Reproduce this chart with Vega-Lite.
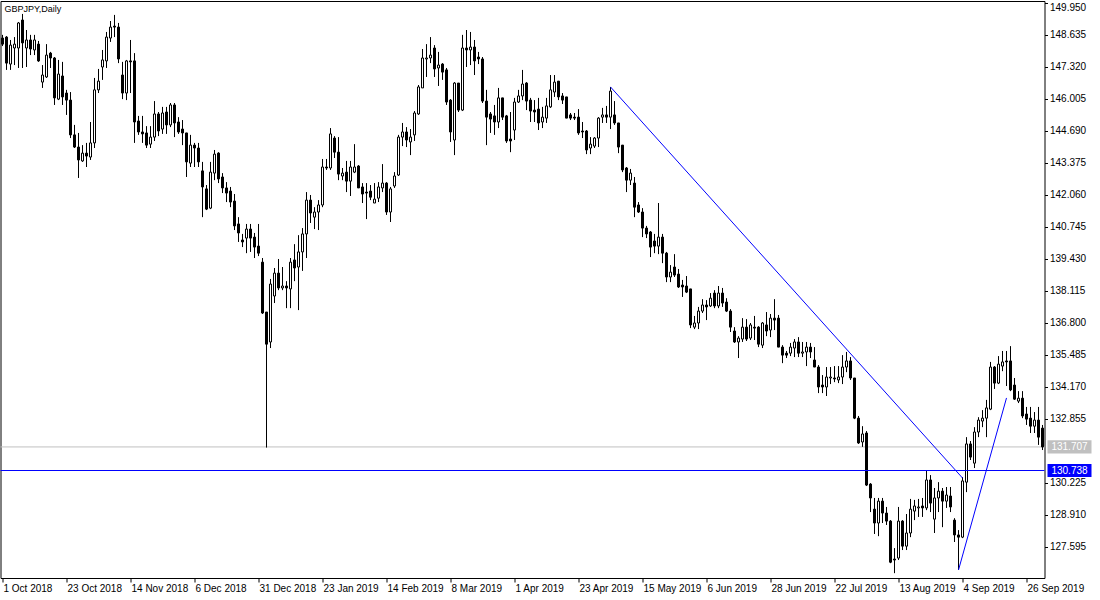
{
"$schema": "https://vega.github.io/schema/vega-lite/v6.json",
"width": 1044, "height": 577,
"autosize": "none",
"padding": {"left": 0.5, "top": 1, "right": 55.5, "bottom": 22},
"background": "white",
"config": {"view": {"stroke": "black", "strokeWidth": 1}, "font": "Liberation Sans", "axis": {"labelFont": "Liberation Sans", "labelColor": "black", "domainColor": "black", "tickColor": "black", "labelOverlap": false, "grid": false}},
"title": {"text": "GBPJPY,Daily", "anchor": "start", "frame": "group", "baseline": "bottom", "offset": -22, "dx": 4, "fontSize": 9, "fontWeight": "normal", "font": "Liberation Sans", "color": "black"},
"datasets": {
"bars": [
{"d":"1 Oct 2018","o":148.51,"h":148.64,"l":148.18,"c":148.26},
{"d":"2 Oct 2018","o":148.55,"h":148.59,"l":147.20,"c":147.48},
{"d":"3 Oct 2018","o":147.44,"h":148.43,"l":147.20,"c":148.22},
{"d":"4 Oct 2018","o":148.10,"h":148.55,"l":147.40,"c":148.26},
{"d":"5 Oct 2018","o":148.10,"h":149.17,"l":147.28,"c":149.13},
{"d":"8 Oct 2018","o":149.25,"h":149.50,"l":147.28,"c":148.31},
{"d":"9 Oct 2018","o":148.10,"h":148.84,"l":147.32,"c":148.43},
{"d":"10 Oct 2018","o":148.43,"h":148.64,"l":147.81,"c":148.06},
{"d":"11 Oct 2018","o":148.02,"h":148.64,"l":147.81,"c":148.43},
{"d":"12 Oct 2018","o":148.26,"h":148.39,"l":147.53,"c":147.57},
{"d":"15 Oct 2018","o":146.70,"h":147.40,"l":146.46,"c":146.99},
{"d":"16 Oct 2018","o":146.91,"h":148.26,"l":146.87,"c":147.81},
{"d":"17 Oct 2018","o":147.89,"h":147.94,"l":147.28,"c":147.69},
{"d":"18 Oct 2018","o":147.69,"h":147.73,"l":145.76,"c":146.05},
{"d":"19 Oct 2018","o":146.00,"h":147.61,"l":145.96,"c":147.03},
{"d":"22 Oct 2018","o":146.95,"h":147.53,"l":145.76,"c":146.09},
{"d":"23 Oct 2018","o":146.25,"h":146.38,"l":145.35,"c":145.96},
{"d":"24 Oct 2018","o":145.96,"h":146.29,"l":144.40,"c":144.53},
{"d":"25 Oct 2018","o":144.53,"h":144.94,"l":143.99,"c":144.03},
{"d":"26 Oct 2018","o":144.03,"h":144.61,"l":142.76,"c":143.50},
{"d":"29 Oct 2018","o":143.46,"h":144.11,"l":143.42,"c":143.78},
{"d":"30 Oct 2018","o":143.78,"h":144.20,"l":143.21,"c":143.66},
{"d":"31 Oct 2018","o":143.62,"h":145.06,"l":143.50,"c":144.20},
{"d":"1 Nov 2018","o":144.20,"h":146.87,"l":143.99,"c":146.38},
{"d":"2 Nov 2018","o":146.38,"h":147.24,"l":146.25,"c":146.74},
{"d":"5 Nov 2018","o":147.32,"h":148.02,"l":146.79,"c":147.61},
{"d":"6 Nov 2018","o":147.57,"h":148.76,"l":147.28,"c":148.55},
{"d":"7 Nov 2018","o":148.51,"h":149.21,"l":148.35,"c":148.96},
{"d":"8 Nov 2018","o":149.00,"h":149.46,"l":148.55,"c":148.96},
{"d":"9 Nov 2018","o":148.96,"h":149.13,"l":147.48,"c":147.65},
{"d":"12 Nov 2018","o":146.99,"h":147.53,"l":146.00,"c":146.25},
{"d":"13 Nov 2018","o":146.25,"h":147.61,"l":145.96,"c":147.57},
{"d":"14 Nov 2018","o":147.57,"h":148.43,"l":146.25,"c":147.53},
{"d":"15 Nov 2018","o":147.57,"h":147.89,"l":144.20,"c":145.06},
{"d":"16 Nov 2018","o":145.10,"h":145.31,"l":144.53,"c":144.65},
{"d":"19 Nov 2018","o":144.65,"h":145.31,"l":144.20,"c":144.57},
{"d":"20 Nov 2018","o":144.61,"h":144.89,"l":143.99,"c":144.11},
{"d":"21 Nov 2018","o":144.15,"h":144.89,"l":143.99,"c":144.44},
{"d":"22 Nov 2018","o":144.44,"h":145.92,"l":144.28,"c":145.39},
{"d":"23 Nov 2018","o":145.39,"h":145.47,"l":144.48,"c":144.69},
{"d":"26 Nov 2018","o":144.77,"h":145.68,"l":144.57,"c":145.43},
{"d":"27 Nov 2018","o":145.47,"h":145.68,"l":144.57,"c":144.94},
{"d":"28 Nov 2018","o":144.94,"h":145.84,"l":144.85,"c":145.76},
{"d":"29 Nov 2018","o":145.76,"h":145.84,"l":144.44,"c":145.02},
{"d":"30 Nov 2018","o":145.06,"h":145.26,"l":144.57,"c":144.65},
{"d":"3 Dec 2018","o":144.77,"h":145.14,"l":144.11,"c":144.61},
{"d":"4 Dec 2018","o":144.61,"h":144.61,"l":142.80,"c":143.42},
{"d":"5 Dec 2018","o":143.37,"h":144.53,"l":143.21,"c":144.11},
{"d":"6 Dec 2018","o":144.11,"h":144.20,"l":143.21,"c":143.99},
{"d":"7 Dec 2018","o":143.99,"h":144.20,"l":143.21,"c":143.42},
{"d":"10 Dec 2018","o":143.05,"h":143.42,"l":141.15,"c":142.39},
{"d":"11 Dec 2018","o":142.31,"h":142.47,"l":141.44,"c":141.48},
{"d":"12 Dec 2018","o":141.52,"h":143.42,"l":141.48,"c":143.00},
{"d":"13 Dec 2018","o":142.96,"h":143.91,"l":142.67,"c":143.74},
{"d":"14 Dec 2018","o":143.78,"h":143.82,"l":142.55,"c":142.72},
{"d":"17 Dec 2018","o":142.80,"h":142.96,"l":142.14,"c":142.35},
{"d":"18 Dec 2018","o":142.35,"h":142.59,"l":141.77,"c":142.14},
{"d":"19 Dec 2018","o":142.22,"h":142.39,"l":141.56,"c":141.77},
{"d":"20 Dec 2018","o":141.81,"h":142.10,"l":140.62,"c":140.79},
{"d":"21 Dec 2018","o":140.87,"h":141.15,"l":140.13,"c":140.50},
{"d":"24 Dec 2018","o":140.21,"h":140.46,"l":139.92,"c":140.13},
{"d":"26 Dec 2018","o":140.29,"h":140.87,"l":139.67,"c":140.66},
{"d":"27 Dec 2018","o":140.66,"h":140.87,"l":139.72,"c":140.29},
{"d":"28 Dec 2018","o":140.33,"h":140.50,"l":139.47,"c":139.92},
{"d":"31 Dec 2018","o":139.96,"h":140.87,"l":139.55,"c":139.67},
{"d":"2 Jan 2019","o":139.30,"h":139.47,"l":137.17,"c":137.21},
{"d":"3 Jan 2019","o":137.25,"h":137.25,"l":131.68,"c":135.93},
{"d":"4 Jan 2019","o":136.02,"h":138.61,"l":135.77,"c":138.40},
{"d":"7 Jan 2019","o":137.91,"h":139.06,"l":137.62,"c":138.85},
{"d":"8 Jan 2019","o":138.85,"h":139.43,"l":138.15,"c":138.24},
{"d":"9 Jan 2019","o":138.24,"h":139.10,"l":138.15,"c":138.32},
{"d":"10 Jan 2019","o":138.32,"h":138.52,"l":137.41,"c":138.24},
{"d":"11 Jan 2019","o":138.20,"h":139.47,"l":137.41,"c":139.30},
{"d":"14 Jan 2019","o":139.39,"h":140.04,"l":138.52,"c":139.06},
{"d":"15 Jan 2019","o":139.10,"h":140.41,"l":137.33,"c":139.72},
{"d":"16 Jan 2019","o":139.72,"h":140.70,"l":138.94,"c":140.46},
{"d":"17 Jan 2019","o":140.46,"h":142.18,"l":139.47,"c":141.85},
{"d":"18 Jan 2019","o":141.85,"h":142.06,"l":140.91,"c":141.32},
{"d":"21 Jan 2019","o":141.15,"h":141.56,"l":140.66,"c":141.36},
{"d":"22 Jan 2019","o":141.36,"h":141.85,"l":140.62,"c":141.65},
{"d":"23 Jan 2019","o":141.65,"h":143.54,"l":141.56,"c":143.21},
{"d":"24 Jan 2019","o":143.21,"h":143.54,"l":143.09,"c":143.17},
{"d":"25 Jan 2019","o":143.17,"h":144.81,"l":143.09,"c":144.57},
{"d":"28 Jan 2019","o":144.40,"h":144.48,"l":143.58,"c":143.82},
{"d":"29 Jan 2019","o":143.82,"h":144.44,"l":142.67,"c":142.92},
{"d":"30 Jan 2019","o":142.84,"h":143.17,"l":142.67,"c":142.96},
{"d":"31 Jan 2019","o":143.00,"h":143.46,"l":142.18,"c":142.63},
{"d":"1 Feb 2019","o":142.63,"h":143.46,"l":142.02,"c":143.21},
{"d":"4 Feb 2019","o":143.00,"h":144.15,"l":142.96,"c":143.21},
{"d":"5 Feb 2019","o":143.25,"h":143.29,"l":142.35,"c":142.35},
{"d":"6 Feb 2019","o":142.39,"h":142.55,"l":141.73,"c":142.10},
{"d":"7 Feb 2019","o":142.18,"h":142.55,"l":141.07,"c":142.14},
{"d":"8 Feb 2019","o":142.22,"h":142.47,"l":141.85,"c":141.97},
{"d":"11 Feb 2019","o":141.73,"h":142.55,"l":141.73,"c":141.89},
{"d":"12 Feb 2019","o":141.93,"h":142.59,"l":141.77,"c":142.39},
{"d":"13 Feb 2019","o":142.35,"h":143.33,"l":142.18,"c":142.55},
{"d":"14 Feb 2019","o":142.55,"h":142.59,"l":141.24,"c":141.36},
{"d":"15 Feb 2019","o":141.36,"h":142.39,"l":140.95,"c":142.31},
{"d":"18 Feb 2019","o":142.43,"h":143.00,"l":142.35,"c":142.84},
{"d":"19 Feb 2019","o":142.88,"h":144.53,"l":142.84,"c":144.44},
{"d":"20 Feb 2019","o":144.44,"h":145.02,"l":144.07,"c":144.65},
{"d":"21 Feb 2019","o":144.65,"h":144.85,"l":144.03,"c":144.32},
{"d":"22 Feb 2019","o":144.24,"h":144.77,"l":143.70,"c":144.44},
{"d":"25 Feb 2019","o":144.53,"h":145.51,"l":144.28,"c":145.43},
{"d":"26 Feb 2019","o":145.39,"h":146.58,"l":145.35,"c":146.50},
{"d":"27 Feb 2019","o":146.46,"h":148.06,"l":146.46,"c":147.69},
{"d":"28 Feb 2019","o":147.65,"h":148.26,"l":146.91,"c":147.69},
{"d":"1 Mar 2019","o":147.69,"h":148.55,"l":147.48,"c":147.81},
{"d":"4 Mar 2019","o":148.10,"h":148.22,"l":146.91,"c":147.24},
{"d":"5 Mar 2019","o":147.28,"h":147.94,"l":146.54,"c":147.40},
{"d":"6 Mar 2019","o":147.44,"h":147.48,"l":146.79,"c":147.11},
{"d":"7 Mar 2019","o":147.20,"h":147.28,"l":145.76,"c":145.88},
{"d":"8 Mar 2019","o":145.96,"h":146.00,"l":144.24,"c":144.65},
{"d":"11 Mar 2019","o":144.32,"h":146.70,"l":143.70,"c":146.66},
{"d":"12 Mar 2019","o":146.66,"h":146.66,"l":145.47,"c":145.55},
{"d":"13 Mar 2019","o":145.55,"h":148.64,"l":145.51,"c":148.10},
{"d":"14 Mar 2019","o":148.10,"h":148.84,"l":147.32,"c":148.02},
{"d":"15 Mar 2019","o":148.02,"h":148.76,"l":147.40,"c":148.14},
{"d":"18 Mar 2019","o":148.14,"h":148.43,"l":146.99,"c":147.57},
{"d":"19 Mar 2019","o":147.73,"h":147.94,"l":147.44,"c":147.65},
{"d":"20 Mar 2019","o":147.65,"h":147.73,"l":145.84,"c":145.92},
{"d":"21 Mar 2019","o":145.92,"h":146.38,"l":144.11,"c":145.26},
{"d":"22 Mar 2019","o":145.39,"h":145.47,"l":144.61,"c":145.18},
{"d":"25 Mar 2019","o":145.31,"h":145.76,"l":144.53,"c":145.06},
{"d":"26 Mar 2019","o":145.06,"h":146.46,"l":144.81,"c":146.05},
{"d":"27 Mar 2019","o":146.05,"h":146.05,"l":145.14,"c":145.26},
{"d":"28 Mar 2019","o":145.31,"h":145.35,"l":144.20,"c":144.28},
{"d":"29 Mar 2019","o":144.36,"h":145.47,"l":143.82,"c":144.28},
{"d":"1 Apr 2019","o":144.73,"h":146.05,"l":144.32,"c":145.88},
{"d":"2 Apr 2019","o":145.88,"h":146.38,"l":145.84,"c":146.13},
{"d":"3 Apr 2019","o":146.13,"h":147.20,"l":145.96,"c":146.62},
{"d":"4 Apr 2019","o":146.66,"h":146.70,"l":145.55,"c":145.92},
{"d":"5 Apr 2019","o":145.96,"h":146.05,"l":145.06,"c":145.51},
{"d":"8 Apr 2019","o":145.55,"h":145.96,"l":145.06,"c":145.47},
{"d":"9 Apr 2019","o":145.59,"h":146.05,"l":144.73,"c":145.02},
{"d":"10 Apr 2019","o":145.06,"h":145.68,"l":144.81,"c":145.26},
{"d":"11 Apr 2019","o":145.22,"h":146.05,"l":145.02,"c":145.72},
{"d":"12 Apr 2019","o":145.68,"h":146.99,"l":145.64,"c":146.38},
{"d":"15 Apr 2019","o":146.29,"h":146.99,"l":146.09,"c":146.70},
{"d":"16 Apr 2019","o":146.74,"h":146.74,"l":145.96,"c":146.09},
{"d":"17 Apr 2019","o":146.13,"h":146.25,"l":145.80,"c":145.96},
{"d":"18 Apr 2019","o":146.09,"h":146.09,"l":145.22,"c":145.22},
{"d":"19 Apr 2019","o":145.35,"h":145.43,"l":145.14,"c":145.22},
{"d":"22 Apr 2019","o":145.26,"h":145.43,"l":145.14,"c":145.22},
{"d":"23 Apr 2019","o":145.26,"h":145.59,"l":144.53,"c":144.61},
{"d":"24 Apr 2019","o":144.69,"h":145.06,"l":144.40,"c":144.65},
{"d":"25 Apr 2019","o":144.69,"h":144.73,"l":143.74,"c":143.91},
{"d":"26 Apr 2019","o":143.99,"h":144.44,"l":143.74,"c":144.15},
{"d":"29 Apr 2019","o":144.07,"h":144.44,"l":143.99,"c":144.40},
{"d":"30 Apr 2019","o":144.40,"h":145.26,"l":144.03,"c":145.22},
{"d":"1 May 2019","o":145.26,"h":145.64,"l":145.02,"c":145.35},
{"d":"2 May 2019","o":145.35,"h":145.72,"l":145.02,"c":145.26},
{"d":"3 May 2019","o":145.26,"h":146.50,"l":144.77,"c":146.33},
{"d":"6 May 2019","o":145.35,"h":145.92,"l":144.94,"c":145.02},
{"d":"7 May 2019","o":145.02,"h":145.02,"l":143.78,"c":144.03},
{"d":"8 May 2019","o":144.11,"h":144.11,"l":143.00,"c":143.09},
{"d":"9 May 2019","o":143.17,"h":143.21,"l":142.18,"c":142.67},
{"d":"10 May 2019","o":142.67,"h":143.13,"l":142.47,"c":142.96},
{"d":"13 May 2019","o":142.55,"h":142.80,"l":141.15,"c":141.56},
{"d":"14 May 2019","o":141.65,"h":141.77,"l":141.32,"c":141.36},
{"d":"15 May 2019","o":141.36,"h":141.52,"l":140.33,"c":140.70},
{"d":"16 May 2019","o":140.70,"h":140.79,"l":140.29,"c":140.46},
{"d":"17 May 2019","o":140.54,"h":140.58,"l":139.51,"c":139.92},
{"d":"20 May 2019","o":140.17,"h":140.46,"l":139.67,"c":139.96},
{"d":"21 May 2019","o":139.96,"h":141.73,"l":139.63,"c":140.33},
{"d":"22 May 2019","o":140.33,"h":140.46,"l":139.26,"c":139.67},
{"d":"23 May 2019","o":139.67,"h":139.72,"l":138.48,"c":138.69},
{"d":"24 May 2019","o":138.69,"h":139.18,"l":138.48,"c":138.89},
{"d":"27 May 2019","o":139.10,"h":139.63,"l":138.69,"c":138.77},
{"d":"28 May 2019","o":138.81,"h":139.02,"l":138.24,"c":138.28},
{"d":"29 May 2019","o":138.36,"h":138.57,"l":137.87,"c":138.28},
{"d":"30 May 2019","o":138.32,"h":138.73,"l":138.03,"c":138.07},
{"d":"31 May 2019","o":138.20,"h":138.20,"l":136.59,"c":136.72},
{"d":"3 Jun 2019","o":136.63,"h":137.09,"l":136.55,"c":136.80},
{"d":"4 Jun 2019","o":136.80,"h":137.46,"l":136.55,"c":137.29},
{"d":"5 Jun 2019","o":137.29,"h":137.78,"l":137.21,"c":137.54},
{"d":"6 Jun 2019","o":137.54,"h":137.74,"l":136.92,"c":137.46},
{"d":"7 Jun 2019","o":137.50,"h":138.03,"l":137.46,"c":137.82},
{"d":"10 Jun 2019","o":138.03,"h":138.15,"l":137.41,"c":137.50},
{"d":"11 Jun 2019","o":137.50,"h":138.32,"l":137.41,"c":138.03},
{"d":"12 Jun 2019","o":138.03,"h":138.24,"l":137.46,"c":137.62},
{"d":"13 Jun 2019","o":137.66,"h":137.82,"l":137.25,"c":137.29},
{"d":"14 Jun 2019","o":137.29,"h":137.37,"l":136.43,"c":136.63},
{"d":"17 Jun 2019","o":136.47,"h":136.63,"l":135.98,"c":136.02},
{"d":"18 Jun 2019","o":136.02,"h":136.26,"l":135.36,"c":136.18},
{"d":"19 Jun 2019","o":136.14,"h":137.00,"l":136.02,"c":136.63},
{"d":"20 Jun 2019","o":136.63,"h":136.96,"l":136.06,"c":136.14},
{"d":"21 Jun 2019","o":136.18,"h":136.80,"l":136.10,"c":136.72},
{"d":"24 Jun 2019","o":136.63,"h":137.09,"l":136.10,"c":136.59},
{"d":"25 Jun 2019","o":136.63,"h":136.67,"l":135.81,"c":135.93},
{"d":"26 Jun 2019","o":135.89,"h":136.84,"l":135.77,"c":136.80},
{"d":"27 Jun 2019","o":136.72,"h":137.25,"l":136.26,"c":136.47},
{"d":"28 Jun 2019","o":136.51,"h":137.17,"l":136.22,"c":137.00},
{"d":"1 Jul 2019","o":137.00,"h":137.78,"l":136.51,"c":136.92},
{"d":"2 Jul 2019","o":137.00,"h":137.13,"l":135.81,"c":135.81},
{"d":"3 Jul 2019","o":135.81,"h":135.89,"l":135.15,"c":135.48},
{"d":"4 Jul 2019","o":135.56,"h":135.65,"l":135.36,"c":135.48},
{"d":"5 Jul 2019","o":135.56,"h":135.98,"l":135.44,"c":135.81},
{"d":"8 Jul 2019","o":135.77,"h":136.14,"l":135.40,"c":136.02},
{"d":"9 Jul 2019","o":136.02,"h":136.22,"l":135.40,"c":135.56},
{"d":"10 Jul 2019","o":135.56,"h":136.02,"l":135.40,"c":135.61},
{"d":"11 Jul 2019","o":135.61,"h":136.02,"l":135.03,"c":135.81},
{"d":"12 Jul 2019","o":135.81,"h":135.98,"l":135.36,"c":135.61},
{"d":"15 Jul 2019","o":135.28,"h":135.81,"l":134.99,"c":134.99},
{"d":"16 Jul 2019","o":134.99,"h":135.07,"l":133.92,"c":134.17},
{"d":"17 Jul 2019","o":134.25,"h":134.66,"l":133.92,"c":134.17},
{"d":"18 Jul 2019","o":134.17,"h":134.99,"l":133.80,"c":134.58},
{"d":"19 Jul 2019","o":134.54,"h":134.99,"l":134.29,"c":134.58},
{"d":"22 Jul 2019","o":134.54,"h":135.03,"l":134.37,"c":134.50},
{"d":"23 Jul 2019","o":134.46,"h":135.03,"l":134.33,"c":134.58},
{"d":"24 Jul 2019","o":134.58,"h":135.48,"l":134.29,"c":134.99},
{"d":"25 Jul 2019","o":134.99,"h":135.61,"l":134.78,"c":135.24},
{"d":"26 Jul 2019","o":135.24,"h":135.40,"l":134.46,"c":134.54},
{"d":"29 Jul 2019","o":134.54,"h":134.54,"l":132.85,"c":132.89},
{"d":"30 Jul 2019","o":132.89,"h":132.98,"l":131.83,"c":131.87},
{"d":"31 Jul 2019","o":131.91,"h":132.56,"l":131.71,"c":132.24},
{"d":"1 Aug 2019","o":132.28,"h":132.36,"l":130.10,"c":130.14},
{"d":"2 Aug 2019","o":130.18,"h":130.22,"l":129.03,"c":129.61},
{"d":"5 Aug 2019","o":129.15,"h":129.61,"l":128.13,"c":128.58},
{"d":"6 Aug 2019","o":128.58,"h":129.61,"l":128.04,"c":129.48},
{"d":"7 Aug 2019","o":129.48,"h":129.61,"l":128.58,"c":128.99},
{"d":"8 Aug 2019","o":128.99,"h":129.24,"l":128.50,"c":128.66},
{"d":"9 Aug 2019","o":128.66,"h":128.70,"l":126.93,"c":126.97},
{"d":"12 Aug 2019","o":127.10,"h":127.55,"l":126.52,"c":127.06},
{"d":"13 Aug 2019","o":127.14,"h":129.24,"l":127.06,"c":128.66},
{"d":"14 Aug 2019","o":128.66,"h":128.70,"l":127.47,"c":127.63},
{"d":"15 Aug 2019","o":127.63,"h":128.95,"l":127.47,"c":128.17},
{"d":"16 Aug 2019","o":128.17,"h":129.57,"l":128.00,"c":129.15},
{"d":"19 Aug 2019","o":129.07,"h":129.53,"l":128.70,"c":129.28},
{"d":"20 Aug 2019","o":129.20,"h":129.57,"l":128.83,"c":129.24},
{"d":"21 Aug 2019","o":129.28,"h":129.61,"l":128.83,"c":129.20},
{"d":"22 Aug 2019","o":129.20,"h":130.72,"l":129.11,"c":130.35},
{"d":"23 Aug 2019","o":130.35,"h":130.55,"l":129.03,"c":129.40},
{"d":"26 Aug 2019","o":128.74,"h":130.02,"l":128.17,"c":129.61},
{"d":"27 Aug 2019","o":129.61,"h":130.26,"l":129.03,"c":129.89},
{"d":"28 Aug 2019","o":129.89,"h":130.02,"l":128.41,"c":129.48},
{"d":"29 Aug 2019","o":129.48,"h":130.06,"l":129.20,"c":129.73},
{"d":"30 Aug 2019","o":129.69,"h":130.06,"l":129.03,"c":129.24},
{"d":"2 Sep 2019","o":128.70,"h":128.78,"l":127.80,"c":128.09},
{"d":"3 Sep 2019","o":128.09,"h":128.29,"l":126.65,"c":128.00},
{"d":"4 Sep 2019","o":128.00,"h":130.47,"l":127.96,"c":130.31},
{"d":"5 Sep 2019","o":130.26,"h":132.11,"l":129.85,"c":131.83},
{"d":"6 Sep 2019","o":131.83,"h":131.95,"l":131.17,"c":131.29},
{"d":"9 Sep 2019","o":131.04,"h":132.52,"l":130.84,"c":132.32},
{"d":"10 Sep 2019","o":132.32,"h":132.93,"l":132.11,"c":132.81},
{"d":"11 Sep 2019","o":132.77,"h":133.22,"l":132.52,"c":132.89},
{"d":"12 Sep 2019","o":132.89,"h":133.64,"l":132.11,"c":133.31},
{"d":"13 Sep 2019","o":133.26,"h":135.20,"l":133.22,"c":134.99},
{"d":"16 Sep 2019","o":134.99,"h":135.03,"l":134.09,"c":134.33},
{"d":"17 Sep 2019","o":134.33,"h":135.44,"l":134.29,"c":135.11},
{"d":"18 Sep 2019","o":135.03,"h":135.65,"l":134.82,"c":135.20},
{"d":"19 Sep 2019","o":135.24,"h":135.65,"l":134.21,"c":135.20},
{"d":"20 Sep 2019","o":135.24,"h":135.85,"l":134.00,"c":134.05},
{"d":"23 Sep 2019","o":134.25,"h":134.54,"l":133.64,"c":133.67},
{"d":"24 Sep 2019","o":133.59,"h":134.00,"l":133.51,"c":133.71},
{"d":"25 Sep 2019","o":133.71,"h":134.00,"l":132.89,"c":132.98},
{"d":"26 Sep 2019","o":133.06,"h":133.35,"l":132.61,"c":132.85},
{"d":"27 Sep 2019","o":132.89,"h":133.35,"l":132.28,"c":132.56},
{"d":"30 Sep 2019","o":132.56,"h":133.14,"l":132.28,"c":132.81},
{"d":"1 Oct 2019","o":132.81,"h":133.35,"l":131.79,"c":132.11},
{"d":"2 Oct 2019","o":132.48,"h":132.61,"l":131.58,"c":131.707}
],
"trend": [
{"g":"a","d":"3 May 2019","p":146.50},
{"g":"a","d":"4 Sep 2019","p":130.43},
{"g":"b","d":"3 Sep 2019","p":126.65},
{"g":"b","d":"19 Sep 2019","p":133.72}
],
"levels": [
{"k":"bid","p":131.707},
{"k":"hline","p":130.738}
]
},
"layer": [
{"data": {"name": "levels"}, "transform": [{"filter": "datum.k == 'bid'"}],
 "mark": {"type": "rule", "color": "#C0C0C0", "strokeWidth": 1},
 "encoding": {"y": {"field": "p", "type": "quantitative", "scale": {"domain": [126.321, 150.032], "nice": false, "zero": false},
   "axis": {"orient": "right", "title": null, "grid": false, "values": [127.595,128.910,130.225,132.855,134.170,135.485,136.800,138.115,139.430,140.745,142.060,143.375,144.690,146.005,147.320,148.635,149.950], "tickCount": 40, "format": ".3f", "labelFontSize": 10, "tickSize": 3, "labelPadding": 2, "domain": false, "labelOverlap": false, "labelFlush": 4}}}},
{"data": {"name": "bars"},
 "mark": {"type": "rule", "color": "black", "strokeWidth": 1},
 "encoding": {
   "x": {"field": "d", "type": "ordinal", "sort": null, "scale": {"paddingInner": 0, "paddingOuter": 0},
     "axis": {"title": null, "values": ["1 Oct 2018","23 Oct 2018","14 Nov 2018","6 Dec 2018","31 Dec 2018","23 Jan 2019","14 Feb 2019","8 Mar 2019","1 Apr 2019","23 Apr 2019","15 May 2019","6 Jun 2019","28 Jun 2019","22 Jul 2019","13 Aug 2019","4 Sep 2019","26 Sep 2019"], "labelAngle": 0, "labelAlign": "left", "labelBaseline": "top", "labelFontSize": 10, "tickSize": 4, "labelPadding": 1, "labelOffset": 1, "bandPosition": 0.5, "labelOverlap": false, "labelFlush": false, "domain": false}},
   "y": {"field": "l", "type": "quantitative",
     "axis": {"orient": "right", "title": null, "grid": false, "values": [127.595,128.910,130.225,132.855,134.170,135.485,136.800,138.115,139.430,140.745,142.060,143.375,144.690,146.005,147.320,148.635,149.950], "tickCount": 40, "format": ".3f", "labelFontSize": 10, "tickSize": 3, "labelPadding": 2, "domain": false, "labelOverlap": false, "labelFlush": 4}},
   "y2": {"field": "h"}}},
{"data": {"name": "bars"},
 "mark": {"type": "bar", "width": 2, "stroke": "black", "strokeWidth": 1},
 "encoding": {
   "x": {"field": "d", "type": "ordinal", "sort": null},
   "y": {"field": "o", "type": "quantitative"},
   "y2": {"field": "c"},
   "fill": {"condition": {"test": "datum.c < datum.o", "value": "black"}, "value": "white"}}},
{"data": {"name": "levels"}, "transform": [{"filter": "datum.k == 'hline'"}],
 "mark": {"type": "rule", "color": "#0000FF", "strokeWidth": 1},
 "encoding": {"y": {"field": "p", "type": "quantitative"}}},
{"data": {"name": "trend"},
 "mark": {"type": "line", "color": "#0000FF", "strokeWidth": 1},
 "encoding": {
   "x": {"field": "d", "type": "ordinal", "sort": null},
   "y": {"field": "p", "type": "quantitative"},
   "detail": {"field": "g"}}},
{"data": {"name": "levels"},
 "mark": {"type": "point", "shape": "M-1,-0.3H1V0.3H-1Z", "size": 1936, "filled": true, "opacity": 1, "strokeWidth": 0, "xOffset": 27},
 "encoding": {
   "x": {"datum": "2 Oct 2019", "type": "ordinal"},
   "y": {"field": "p", "type": "quantitative"},
   "fill": {"field": "k", "type": "nominal", "scale": {"domain": ["bid", "hline"], "range": ["#C0C0C0", "#0000FF"]}, "legend": null}}},
{"data": {"name": "levels"},
 "mark": {"type": "text", "dx": 27, "align": "center", "baseline": "middle", "fill": "white", "fontSize": 10, "font": "Liberation Sans"},
 "encoding": {
   "x": {"datum": "2 Oct 2019", "type": "ordinal"},
   "y": {"field": "p", "type": "quantitative"},
   "text": {"field": "p", "type": "quantitative", "format": ".3f"}}}
]
}
